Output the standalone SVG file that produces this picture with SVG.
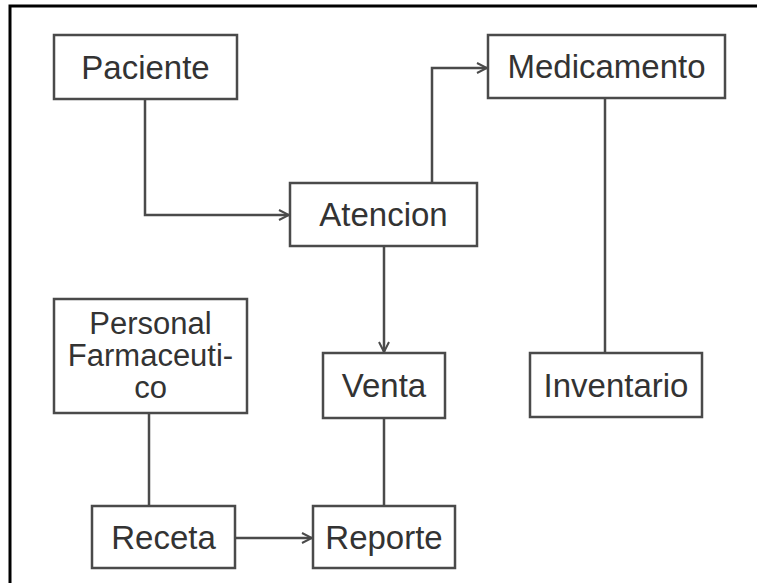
<svg xmlns="http://www.w3.org/2000/svg" width="757" height="583" viewBox="0 0 757 583">
  <style>
    .box { fill: #ffffff; stroke: #4a4a4a; stroke-width: 2.5; }
    .label { font-family: "Liberation Sans", Arial, sans-serif; font-size: 33px; fill: #333333; text-anchor: middle; }
    .label.multi { font-size: 31px; }
    .edge { fill: none; stroke: #4a4a4a; stroke-width: 2.5; }
    .frame { fill: none; stroke: #000000; stroke-width: 3; }
  </style>
  <defs>
    <marker id="open-arrow" viewBox="0 0 12 12" refX="11" refY="6" markerWidth="12" markerHeight="12" markerUnits="userSpaceOnUse" orient="auto">
      <path d="M1,1 L11,6 L1,11" fill="none" stroke="#4a4a4a" stroke-width="2"/>
    </marker>
  </defs>

  <rect x="0" y="0" width="757" height="583" fill="#ffffff"/>
  <!-- outer frame: top and left edges -->
  <path class="frame" d="M10,583 L10,6 L757,6"/>

  <g id="connectors">
    <path class="edge" d="M145,99 L145,215 L289,215" marker-end="url(#open-arrow)"/>
    <path class="edge" d="M432,183 L432,68 L487,68" marker-end="url(#open-arrow)"/>
    <path class="edge" d="M384,246 L384,352" marker-end="url(#open-arrow)"/>
    <path class="edge" d="M235,538 L312,538" marker-end="url(#open-arrow)"/>
    <path class="edge" d="M605,98 L605,353"/>
    <path class="edge" d="M149,413 L149,506"/>
    <path class="edge" d="M384,418 L384,506"/>
  </g>

  <g id="paciente">
    <rect class="box" x="54" y="35" width="183" height="64"/>
    <text class="label" x="145.5" y="78.5">Paciente</text>
  </g>

  <g id="medicamento">
    <rect class="box" x="488" y="35" width="237" height="63"/>
    <text class="label" x="606.5" y="78">Medicamento</text>
  </g>

  <g id="atencion">
    <rect class="box" x="290" y="183" width="187" height="63"/>
    <text class="label" x="383.5" y="226">Atencion</text>
  </g>

  <g id="personal-farmaceutico">
    <rect class="box" x="54" y="299" width="193" height="114"/>
    <text class="label multi" x="150.5" y="334">Personal</text>
    <text class="label multi" x="150.5" y="366">Farmaceuti-</text>
    <text class="label multi" x="150.5" y="398">co</text>
  </g>

  <g id="venta">
    <rect class="box" x="323" y="353" width="122" height="65"/>
    <text class="label" x="384" y="397">Venta</text>
  </g>

  <g id="inventario">
    <rect class="box" x="530" y="353" width="172" height="64"/>
    <text class="label" x="616" y="396.5">Inventario</text>
  </g>

  <g id="receta">
    <rect class="box" x="92" y="506" width="143" height="62"/>
    <text class="label" x="163.5" y="548.5">Receta</text>
  </g>

  <g id="reporte">
    <rect class="box" x="313" y="506" width="142" height="62"/>
    <text class="label" x="384" y="548.5">Reporte</text>
  </g>
</svg>
